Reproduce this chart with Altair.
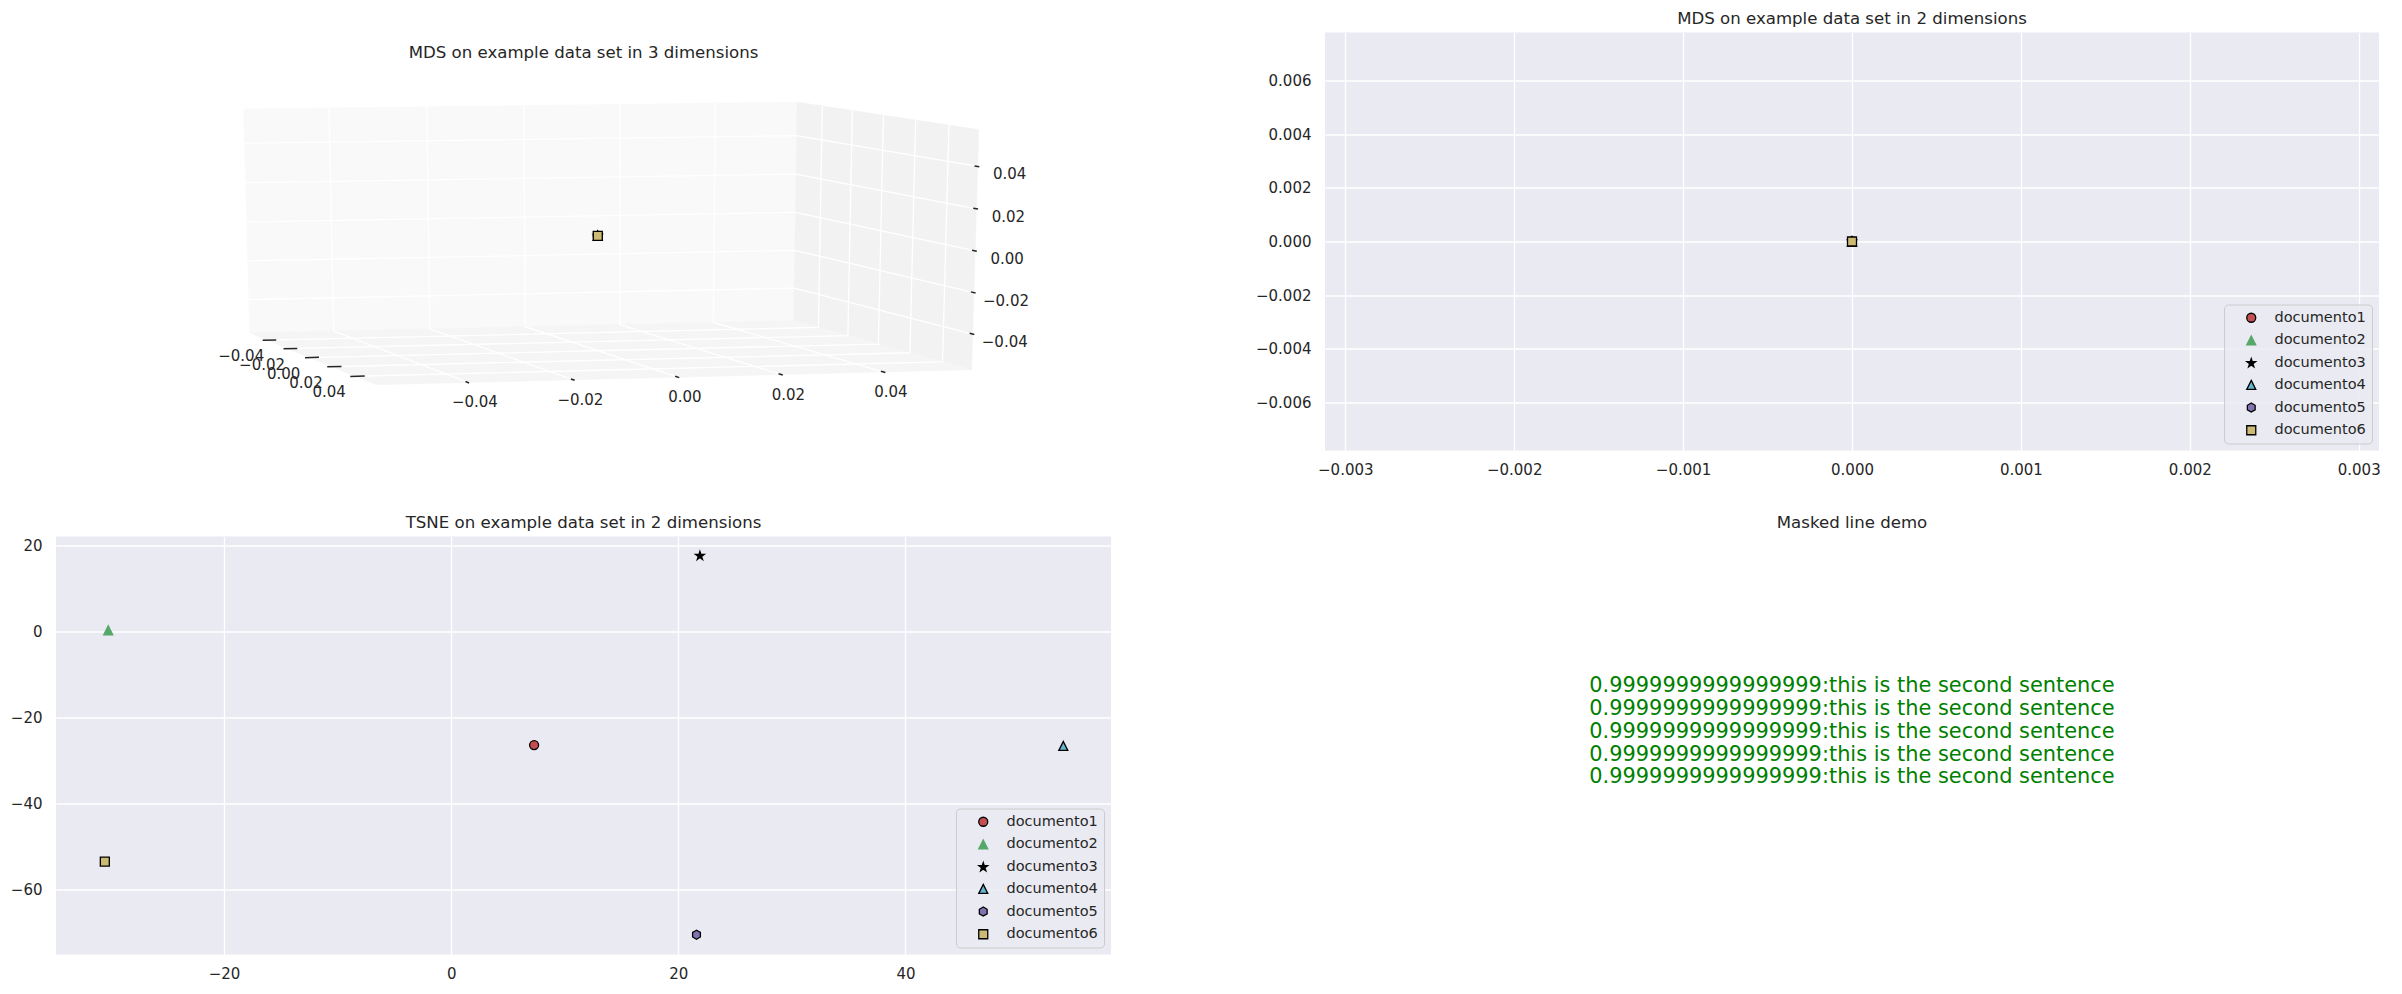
import math
import altair as alt

# ---------------------------------------------------------------- data
docs = ["documento1", "documento2", "documento3", "documento4", "documento5", "documento6"]
doc_fill = ["#C44E52", "#55A868", "#000000", "#64B5CD", "#8172B2", "#CCB974"]
doc_edge = ["#000000", "#55A868", "#000000", "#000000", "#000000", "#000000"]

# MDS, 3 dimensions (all documents collapse on the origin)
mds3_x = [0.0, 0.0, 0.0, 0.0, 0.0, 0.0]
mds3_y = [0.0, 0.0, 0.0, 0.0, 0.0, 0.0]
mds3_z = [0.0, 0.0, 0.0, 0.0, 0.0, 0.0]

# MDS, 2 dimensions
mds2_x = [0.0, 0.0, 0.0, 0.0, 0.0, 0.0]
mds2_y = [0.0, 0.0, 0.0, 0.0, 0.0, 0.0]

# TSNE, 2 dimensions
tsne_x = [7.3, -30.2, 21.9, 53.9, 21.6, -30.5]
tsne_y = [-26.4, 0.3, 17.6, -26.6, -70.5, -53.5]

ticks_3d = [-0.04, -0.02, 0.0, 0.02, 0.04]
mds2_xticks = [-0.003, -0.002, -0.001, 0.0, 0.001, 0.002, 0.003]
mds2_yticks = [-0.006, -0.004, -0.002, 0.0, 0.002, 0.004, 0.006]
tsne_xticks = [-20, 0, 20, 40]
tsne_yticks = [-60, -40, -20, 0, 20]

masked_lines = [
    "0.9999999999999999:this is the second sentence",
    "0.9999999999999999:this is the second sentence",
    "0.9999999999999999:this is the second sentence",
    "0.9999999999999999:this is the second sentence",
    "0.9999999999999999:this is the second sentence",
]

title_3d = "MDS on example data set in 3 dimensions"
title_mds2 = "MDS on example data set in 2 dimensions"
title_tsne = "TSNE on example data set in 2 dimensions"
title_mask = "Masked line demo"

# ---------------------------------------------------------------- style
FONT = "DejaVu Sans"
TXT = "#262626"
AX_BG = "#EAEAF2"
PW, PH = 1055, 418          # plot area of every panel


def poly(pts):
    return "M" + "L".join(f"{x:.4f},{y:.4f}" for x, y in pts) + "Z"


shape_circle = "M1,0A1,1,0,1,1,-1,0A1,1,0,1,1,1,0Z"
shape_tri = "M0,-1L1,1L-1,1Z"
shape_star = poly([((1 if k % 2 == 0 else 0.381966) * math.cos(math.radians(90 + 36 * k)),
                    -(1 if k % 2 == 0 else 0.381966) * math.sin(math.radians(90 + 36 * k)))
                   for k in range(10)])
shape_hex = poly([(math.cos(math.radians(90 + 60 * k)), -math.sin(math.radians(90 + 60 * k)))
                  for k in range(6)])
shape_square = "M-1,-1L1,-1L1,1L-1,1Z"
doc_shapes = [shape_circle, shape_tri, shape_star, shape_tri, shape_hex, shape_square]

MSIZE = 81


def doc_encodings(legend):
    return dict(
        fill=alt.Fill("doc:N", scale=alt.Scale(domain=docs, range=doc_fill), legend=legend),
        stroke=alt.Stroke("doc:N", scale=alt.Scale(domain=docs, range=doc_edge), legend=legend),
        shape=alt.Shape("doc:N", scale=alt.Scale(domain=docs, range=doc_shapes), legend=legend),
    )


# ---------------------------------------------------------------- 3D projection (matplotlib-like)
ELEV, AZIM, DIST = 10.0, -15.0, 10.0
LIM3 = 0.055                           # axis limits +-
DELTA = 2 * LIM3 / 12.0
B = LIM3 + DELTA / 4.0                 # pane box half size
E = math.radians(ELEV)
A = math.radians(AZIM)
n_vec = (math.cos(E) * math.cos(A), math.cos(E) * math.sin(A), math.sin(E))
u_vec = (-math.sin(A), math.cos(A), 0.0)
v_vec = (-math.sin(E) * math.cos(A), -math.sin(E) * math.sin(A), math.cos(E))


def dot(p, q):
    return sum(a * b for a, b in zip(p, q))


def project(p):
    d = [c / (2 * LIM3) for c in p]
    den = DIST - dot(n_vec, d)
    return dot(u_vec, d) / den, dot(v_vec, d) / den


far = [-B if n_vec[i] > 0 else B for i in range(3)]
near = [-f for f in far]

pane_rows = []
pane_colors = {0: "#F9F9F9", 1: "#F2F2F2", 2: "#F5F5F5"}
for i in range(3):
    j, k = [a for a in range(3) if a != i]
    for idx, (sj, sk) in enumerate([(-1, -1), (1, -1), (1, 1), (-1, 1)]):
        p = [0.0, 0.0, 0.0]
        p[i] = far[i]
        p[j] = sj * B
        p[k] = sk * B
        px, py = project(p)
        pane_rows.append({"pane": i, "k": idx, "px": px, "py": py})

grid_rows = []
for i in range(3):
    for t in ticks_3d:
        p1 = list(far)
        p1[i] = t
        p0 = list(p1)
        p0[(i - 2) % 3] = near[(i - 2) % 3]
        p2 = list(p1)
        p2[(i - 1) % 3] = near[(i - 1) % 3]
        for idx, p in enumerate([p0, p1, p2]):
            px, py = project(p)
            grid_rows.append({"gid": f"{i}_{t}", "k": idx, "px": px, "py": py})

axes3d = [
    {"i": 0, "edge": {1: near[1], 2: far[2]}, "tickdir": 1, "dx": -26, "dy": 16},
    {"i": 1, "edge": {0: near[0], 2: far[2]}, "tickdir": 0, "dx": 7, "dy": 20},
    {"i": 2, "edge": {0: near[0], 1: far[1]}, "tickdir": 0, "dx": 32, "dy": 8},
]
tick_rows = []
label_rows = {0: [], 1: [], 2: []}
for ax in axes3d:
    for t in ticks_3d:
        p = [0.0, 0.0, 0.0]
        p[ax["i"]] = t
        for key, val in ax["edge"].items():
            p[key] = val
        td = ax["tickdir"]
        sign = 1 if p[td] > 0 else -1
        p_out = list(p)
        p_out[td] = p[td] + sign * 0.1 * DELTA
        p_in = list(p)
        p_in[td] = p[td] - sign * 0.2 * DELTA
        for idx, q in enumerate([p_in, p_out]):
            px, py = project(q)
            tick_rows.append({"tid": f"{ax['i']}_{t}", "k": idx, "px": px, "py": py})
        px, py = project(p)
        label_rows[ax["i"]].append({"px": px, "py": py,
                                    "label": f"{t:.2f}".replace("-", "\u2212")})

pts3_rows = []
for d, x, y, z in zip(docs, mds3_x, mds3_y, mds3_z):
    px, py = project((x, y, z))
    pts3_rows.append({"doc": d, "px": px, "py": py})

sx3 = alt.Scale(domain=[-0.095, 0.09], nice=False, zero=False)
sy3 = alt.Scale(domain=[-0.095, 0.09], nice=False, zero=False)
X3 = alt.X("px:Q", scale=sx3, axis=None)
Y3 = alt.Y("py:Q", scale=sy3, axis=None)

pane_layers = [
    alt.Chart(alt.Data(values=[r for r in pane_rows if r["pane"] == i]))
    .mark_line(interpolate="linear-closed", fill=pane_colors[i], stroke=pane_colors[i], strokeWidth=0.5)
    .encode(x=X3, y=Y3, order=alt.Order("k:Q"))
    for i in range(3)
]
grid3 = alt.Chart(alt.Data(values=grid_rows)).mark_line(stroke="white", strokeWidth=1.3).encode(
    x=X3, y=Y3, detail=alt.Detail("gid:N"), order=alt.Order("k:Q"))
ticks3 = alt.Chart(alt.Data(values=tick_rows)).mark_line(stroke=TXT, strokeWidth=1.5).encode(
    x=X3, y=Y3, detail=alt.Detail("tid:N"), order=alt.Order("k:Q"))
label_layers = [
    alt.Chart(alt.Data(values=label_rows[ax["i"]]))
    .mark_text(dx=ax["dx"], dy=ax["dy"], align="center", baseline="middle",
               font=FONT, fontSize=15, color=TXT)
    .encode(x=X3, y=Y3, text="label:N")
    for ax in axes3d
]
pts3 = alt.Chart(alt.Data(values=pts3_rows)).mark_point(
    filled=True, size=MSIZE, strokeWidth=1.3, opacity=1).encode(
    x=X3, y=Y3, **doc_encodings(None))

top_left = alt.layer(*pane_layers, grid3, ticks3, *label_layers, pts3).properties(
    width=PW, height=PH,
    title=alt.Title(title_3d, offset=-29),
    view=alt.ViewBackground(fill=None, stroke=None),
)

# ---------------------------------------------------------------- 2D panels
legend = alt.Legend(orient="bottom-right", offset=7, title=None)

mds2_rows = [{"doc": d, "x": x, "y": y} for d, x, y in zip(docs, mds2_x, mds2_y)]
top_right = alt.Chart(alt.Data(values=mds2_rows)).mark_point(
    filled=True, size=MSIZE, strokeWidth=1.3, opacity=1).encode(
    x=alt.X("x:Q", scale=alt.Scale(domain=[-0.00312, 0.00312], nice=False, zero=False),
            axis=alt.Axis(values=mds2_xticks, format=".3f", title=None, minExtent=32, maxExtent=32)),
    y=alt.Y("y:Q", scale=alt.Scale(domain=[-0.0078, 0.0078], nice=False, zero=False),
            axis=alt.Axis(values=mds2_yticks, format=".3f", title=None, minExtent=80, maxExtent=80)),
    **doc_encodings(legend),
).properties(width=PW - 1, height=PH, title=title_mds2,
             view=alt.ViewBackground(fill=AX_BG, stroke=None))

tsne_rows = [{"doc": d, "x": x, "y": y} for d, x, y in zip(docs, tsne_x, tsne_y)]
bottom_left = alt.Chart(alt.Data(values=tsne_rows)).mark_point(
    filled=True, size=MSIZE, strokeWidth=1.3, opacity=1).encode(
    x=alt.X("x:Q", scale=alt.Scale(domain=[-34.8, 58.1], nice=False, zero=False),
            axis=alt.Axis(values=tsne_xticks, format="d", title=None, minExtent=32, maxExtent=32)),
    y=alt.Y("y:Q", scale=alt.Scale(domain=[-75.1, 22.1], nice=False, zero=False),
            axis=alt.Axis(values=tsne_yticks, format="d", title=None, minExtent=50, maxExtent=50)),
    **doc_encodings(legend),
).properties(width=PW, height=PH, title=title_tsne,
             view=alt.ViewBackground(fill=AX_BG, stroke=None))

bottom_right = alt.Chart(alt.Data(values=[{"x": 0.5, "y": 0.627, "lines": masked_lines}])).mark_text(
    align="center", baseline="alphabetic", font=FONT, fontSize=20.9, lineHeight=22.7, color="#008000"
).encode(
    x=alt.X("x:Q", scale=alt.Scale(domain=[0, 1]), axis=None),
    y=alt.Y("y:Q", scale=alt.Scale(domain=[0, 1]), axis=None),
    text=alt.Text("lines:N"),
).properties(width=PW - 1, height=PH, title=title_mask,
             view=alt.ViewBackground(fill=None, stroke=None))

chart = alt.concat(
    top_left, top_right, bottom_left, bottom_right,
    columns=2, spacing={"row": 32, "column": 134},
).resolve_scale(
    fill="independent", stroke="independent", shape="independent"
).resolve_legend(
    fill="independent", stroke="independent", shape="independent"
).properties(
    padding={"left": 6, "top": 10.5, "right": 0, "bottom": 0},
    background="white",
).configure_view(
    stroke=None
).configure_axis(
    domain=False, ticks=False, labelFont=FONT, labelFontSize=15, labelColor=TXT,
    labelPadding=14, gridColor="#FFFFFF", gridWidth=1.3, gridOpacity=1,
    labelFlush=False, labelOverlap=False,
).configure_axisX(
    labelPadding=12,
).configure_legend(
    labelFont=FONT, labelFontSize=14.5, labelColor=TXT, padding=6, rowPadding=6.7,
    symbolSize=MSIZE, symbolStrokeWidth=1.3, symbolOpacity=1,
    fillColor="rgba(234,234,242,0.85)", strokeColor="#CCCCCC", cornerRadius=4,
    labelOffset=16, symbolOffset=14,
).configure_title(
    font=FONT, fontSize=16.6, fontWeight="normal", color=TXT, anchor="middle",
    frame="group", baseline="alphabetic", offset=5,
)

chart.save("out.html", embed_options={"renderer": "svg", "actions": False})
